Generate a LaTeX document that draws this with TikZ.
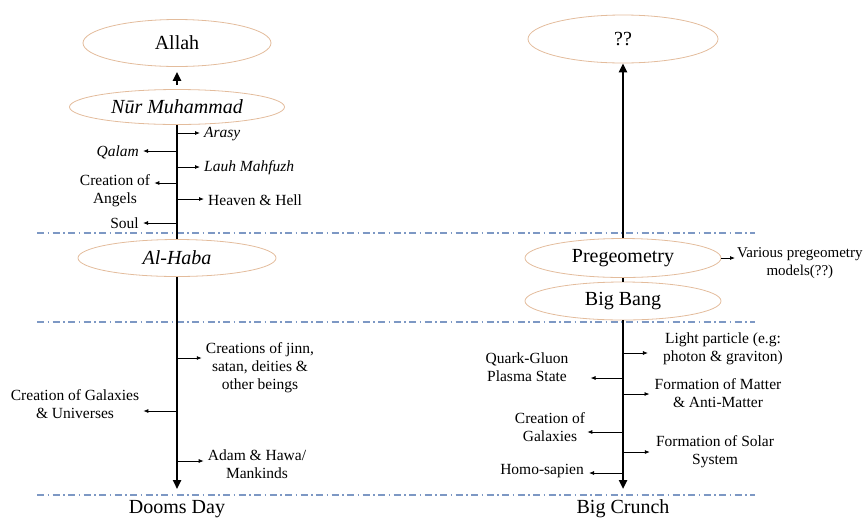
\documentclass[tikz,border=0pt]{standalone}
\usepackage{fontspec}
\setmainfont{Liberation Serif}
\usetikzlibrary{positioning}
\usetikzlibrary{shapes.geometric}
\usetikzlibrary{arrows.meta}
\usepackage{xcolor}

\definecolor{rimorange}{HTML}{E3BC9C}
\definecolor{lineblue}{HTML}{7D98C4}

\tikzset{
  era/.style={draw=rimorange, line width=0.8pt, ellipse, inner sep=0pt, font=\fontsize{20}{22}\selectfont},
  axis/.style={line width=2.4pt},
  bigtip/.style={-{Triangle[length=9pt,width=8pt]}},
  branch/.style={line width=0.8pt, -{Latex[length=5pt,width=4pt]}, shorten >=4pt},
  evt/.style={font=\fontsize{15.5}{18}\selectfont, align=center, inner sep=0pt},
  divider/.style={lineblue, line width=1.1pt, dash pattern=on 7pt off 3.5pt on 1.5pt off 3.5pt},
}

\begin{document}
\begin{tikzpicture}[x=1pt,y=-1pt]
\useasboundingbox (0,0) rectangle (867,523);

% dividers
\draw[divider] (37,233)--(755,233);
\draw[divider] (37,322)--(755,322);
\draw[divider] (37,495)--(755,495);

% ellipses
{
\node[era, minimum width=188, minimum height=47] (allah) at (177,43) {Allah};
\node[era, minimum width=215, minimum height=35] (nur) at (177,107) {\itshape Nūr Muhammad};
\node[era, minimum width=198, minimum height=37] (alhaba) at (177,258) {\itshape Al-Haba};

\node[era, minimum width=190, minimum height=48] (unknown) at (623,39) {??};
\node[era, minimum width=196, minimum height=39] (pregeo) at (623,258) {Pregeometry};
\node[era, minimum width=196, minimum height=38] (bigbang) at (623,301) {Big Bang};
}

\node[font=\fontsize{20}{22}\selectfont] (dooms) at (177,509) {Dooms Day};
\node[font=\fontsize{20}{22}\selectfont] (crunch) at (623,509) {Big Crunch};

% axes
\coordinate (doomend) at (177,489);
\coordinate (crunchend) at (623,489);

\draw[axis, bigtip, shorten <=4pt, shorten >=5pt] (nur.north) -- (allah.south);
\draw[axis] (nur.south) -- (alhaba.north);
\draw[axis, bigtip] (alhaba.south) -- (doomend);

\draw[axis, bigtip] (pregeo.north) -- (unknown.south);
\draw[axis] (pregeo.south) -- (bigbang.north);
\draw[axis, bigtip] (bigbang.south) -- (crunchend);

% left labels
{
\node[evt, anchor=west] (arasy) at (204,134) {\itshape Arasy};
\node[evt, anchor=east] (qalam) at (139,152) {\itshape Qalam};
\node[evt, anchor=west] (lauh) at (204,168) {\itshape Lauh Mahfuzh};
\node[evt] (angels) at (115,191) {Creation of\\Angels};
\node[evt, anchor=west] (heaven) at (208,200) {Heaven \& Hell};
\node[evt, anchor=east] (soul) at (139,223) {Soul};

\node[evt] (jinn) at (260,368) {Creations of jinn,\\satan, deities \&\\other beings};
\node[evt] (galaxies) at (75,404) {Creation of Galaxies\\\& Universes};
\node[evt] (adam) at (257,464) {Adam \& Hawa/\\Mankinds};
}

\coordinate (l1) at (177,133);
\coordinate (l2) at (177,151);
\coordinate (l3) at (177,167);
\coordinate (l4) at (177,183);
\coordinate (l5) at (177,199);
\coordinate (l6) at (177,223);
\coordinate (l7) at (177,358);
\coordinate (l8) at (177,411);
\coordinate (l9) at (177,461);

\draw[branch] (l1) -- (l1 -| arasy.west);
\draw[branch] (l2) -- (l2 -| qalam.east);
\draw[branch] (l3) -- (l3 -| lauh.west);
\draw[branch] (l4) -- (l4 -| angels.east);
\draw[branch] (l5) -- (l5 -| heaven.west);
\draw[branch] (l6) -- (l6 -| soul.east);
\draw[branch] (l7) -- (l7 -| jinn.west);
\draw[branch] (l8) -- (l8 -| galaxies.east);
\draw[branch] (l9) -- (l9 -| adam.west);

% right labels
{
\node[evt, anchor=west, font=\fontsize{15}{18}\selectfont] (models) at (737,263) {Various pregeometry\\models(??)};
\node[evt] (light) at (723,349) {Light particle (e.g:\\photon \& graviton)};
\node[evt] (quark) at (527,367) {Quark-Gluon\\Plasma State};
\node[evt] (matter) at (718,393) {Formation of Matter\\\& Anti-Matter};
\node[evt] (galaxies2) at (550,427) {Creation of\\Galaxies};
\node[evt] (solar) at (715,452) {Formation of Solar\\System};
\node[evt, anchor=east] (homo) at (584,471) {Homo-sapien};
}

\coordinate (r1) at (623,353);
\coordinate (r2) at (623,378);
\coordinate (r3) at (623,394);
\coordinate (r4) at (623,432);
\coordinate (r5) at (623,452);
\coordinate (r6) at (623,473);

\draw[branch, shorten >=2pt] (pregeo.east) -- (models.west |- pregeo.east);
\draw[branch, shorten >=15pt] (r1) -- (r1 -| light.west);
\draw[branch, shorten >=22pt] (r2) -- (r2 -| quark.east);
\draw[branch, shorten >=5pt] (r3) -- (r3 -| matter.west);
\draw[branch, shorten >=2pt] (r4) -- (r4 -| galaxies2.east);
\draw[branch, shorten >=6pt] (r5) -- (r5 -| solar.west);
\draw[branch, shorten >=5pt] (r6) -- (r6 -| homo.east);

\end{tikzpicture}
\end{document}
